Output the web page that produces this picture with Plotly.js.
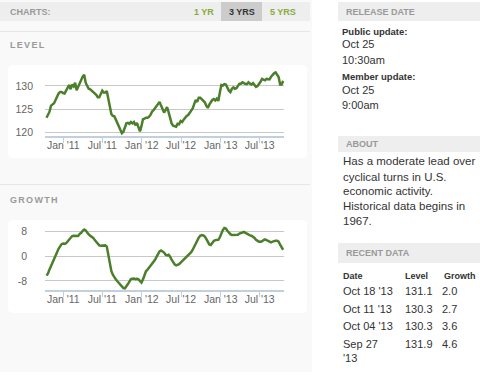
<!DOCTYPE html>
<html>
<head>
<meta charset="utf-8">
<script src="https://cdn.plot.ly/plotly-3.0.1.min.js"></script>
<style>
html,body{margin:0;padding:0;background:#fff;}
#chart{width:480px;height:372px;}
</style>
</head>
<body>
<div id="chart"></div>
<script>
// ---- data (weekly, first week ending 2010-10-15, last 2013-10-18) ----
var firstWeek = '2010-10-15';
var levelValues = [123.2,123.8,124.5,125.8,126.0,126.3,127.0,127.7,128.4,128.7,
128.7,128.5,128.4,129.0,129.6,130.2,129.3,130.3,129.9,130.7,
129.1,129.9,130.8,131.4,132.0,132.4,130.7,130.0,129.4,129.3,
129.0,128.7,128.5,128.1,127.6,127.6,128.3,129.0,128.6,128.6,
128.9,127.2,125.2,124.0,123.6,123.5,122.8,122.0,121.3,120.5,
119.9,120.2,121.0,122.0,122.1,121.9,122.3,122.0,122.3,121.6,
122.1,121.0,120.3,121.4,122.9,123.0,123.2,123.2,123.4,123.8,
124.5,124.8,125.3,125.8,126.3,126.6,125.8,124.8,124.3,124.9,
125.5,124.4,123.1,122.0,121.5,121.4,121.3,121.9,121.8,122.5,
122.3,122.8,123.3,123.6,123.8,124.3,124.6,125.2,126.1,127.0,
126.6,127.5,127.5,127.1,126.9,126.5,125.8,125.3,126.0,126.5,
127.0,127.2,126.9,127.3,126.8,128.6,130.2,130.1,130.4,130.3,
129.5,129.0,128.7,129.4,129.7,129.4,129.5,130.1,130.5,130.5,
130.8,130.6,130.4,130.4,130.8,130.5,130.3,130.6,130.2,129.8,
130.0,130.4,130.9,131.5,131.3,131.2,131.5,131.5,131.4,132.0,
132.4,132.7,132.9,132.3,131.9,130.3,130.3,131.1];
var growthValues = [-6.3,-5.6,-4.3,-3.3,-2.2,-1.1,0.0,1.2,2.3,3.3,
3.8,4.0,3.9,4.1,4.7,5.5,6.0,6.4,6.5,6.5,
6.3,6.4,7.1,7.4,8.1,8.5,8.2,7.4,6.9,6.5,
6.2,5.8,5.1,4.5,3.8,3.4,3.3,3.3,3.4,3.4,
3.0,0.0,-2.4,-4.8,-6.0,-6.9,-7.5,-8.1,-8.7,-9.4,
-10.0,-10.3,-10.4,-9.8,-9.0,-8.2,-7.4,-7.3,-7.2,-7.4,
-7.3,-7.5,-8.0,-8.5,-7.5,-5.8,-4.9,-4.4,-3.8,-3.2,
-2.6,-2.0,-1.2,-0.3,0.7,1.5,1.8,1.5,1.1,0.4,
0.2,0.4,-0.2,-1.2,-2.2,-2.7,-3.0,-2.9,-2.6,-2.1,
-1.6,-1.1,-0.7,-0.3,0.1,0.6,1.2,2.0,3.1,4.1,
5.1,5.9,6.5,6.7,6.6,6.3,5.5,4.7,3.7,3.5,
4.2,4.8,5.1,5.1,5.2,6.0,7.3,8.3,9.0,8.8,
8.1,7.5,7.0,6.7,6.7,6.9,6.9,6.8,7.2,7.3,
7.6,7.7,7.4,7.1,6.8,6.6,6.5,6.2,5.8,5.2,
4.8,4.6,4.6,4.7,5.1,5.3,5.1,4.9,4.6,4.4,
4.6,4.8,4.9,4.9,4.6,3.6,2.7,2.0];
var levelTicks = [120, 125, 130];
var growthTicks = [-8, 0, 8];
var growthTickText = ['-8', '0', '8'];
var rangeButtons = ['1 YR', '3 YRS', '5 YRS'];
var recentDates = ['Oct 18 \'13', 'Oct 11 \'13', 'Oct 04 \'13', 'Sep 27<br>\'13'];
var recentLevel = ['131.1', '130.3', '130.3', '131.9'];
var recentGrowth = ['2.0', '2.7', '3.6', '4.6'];
var aboutLines = ['Has a moderate lead over', 'cyclical turns in U.S.', 'economic activity.', 'Historical data begins in', '1967.'];

// ---- helpers for pixel placement ----
var W = 480, H = 372;
function px(x){ return x / W; }
function py(y){ return 1 - y / H; }
var FONT = 'Liberation Sans, Arial, sans-serif';
function rect(x0, y0, x1, y1, color){
  return {type:'rect', xref:'paper', yref:'paper', x0:px(x0), x1:px(x1), y0:py(y1), y1:py(y0),
    fillcolor:color, line:{width:0}, layer:'below'};
}
function rrect(x0, y0, x1, y1, r, color){
  var ax = px(x0), bx = px(x1), ay = py(y0), by = py(y1);
  var rx = r / W, ry = r / H;
  var p = 'M' + (ax+rx) + ',' + ay + ' L' + (bx-rx) + ',' + ay + ' Q' + bx + ',' + ay + ' ' + bx + ',' + (ay-ry) +
    ' L' + bx + ',' + (by+ry) + ' Q' + bx + ',' + by + ' ' + (bx-rx) + ',' + by +
    ' L' + (ax+rx) + ',' + by + ' Q' + ax + ',' + by + ' ' + ax + ',' + (by+ry) +
    ' L' + ax + ',' + (ay-ry) + ' Q' + ax + ',' + ay + ' ' + (ax+rx) + ',' + ay + ' Z';
  return {type:'path', xref:'paper', yref:'paper', path:p, fillcolor:color, line:{width:0}, layer:'below'};
}
function hline(x0, x1, y, color){
  return {type:'line', xref:'paper', yref:'paper', x0:px(x0), x1:px(x1), y0:py(y), y1:py(y),
    line:{color:color, width:1}, layer:'below'};
}
function txt(x, y, text, size, color, bold, anchor){
  return {xref:'paper', yref:'paper', x:px(x), y:py(y), text: bold ? '<b>' + text + '</b>' : text,
    showarrow:false, xanchor: anchor || 'left', yanchor:'middle', align:'left',
    font:{family:FONT, size:size, color:color}};
}

var shapes = [
  rect(0, 0, 312, 372, '#f9f9f9'),
  rect(0, 2, 310, 21, '#eeeeee'),
  rect(221, 2, 262, 21, '#cccccc'),
  hline(0, 310, 31.5, '#e6e6e6'),
  hline(0, 310, 184.5, '#e6e6e6'),
  rrect(8, 65, 307, 158, 5, '#ffffff'),
  rrect(8, 220, 307, 313, 5, '#ffffff'),
  rect(338, 2, 480, 21, '#eeeeee'),
  rect(338, 136, 480, 152, '#eeeeee'),
  rect(338, 243, 480, 263, '#eeeeee')
];

var ann = [
  txt(8, 12, 'CHARTS:', 9, '#999999', true),
  txt(204, 12, rangeButtons[0], 9, '#8aaa3a', true, 'center'),
  txt(241.5, 12, rangeButtons[1], 9, '#333333', true, 'center'),
  txt(283, 12, rangeButtons[2], 9, '#8aaa3a', true, 'center'),
  txt(8, 45, 'LEVEL', 9, '#999999', true),
  txt(8, 200, 'GROWTH', 9, '#999999', true),
  txt(344, 12, 'RELEASE DATE', 9, '#999999', true),
  txt(340, 31.5, 'Public update:', 9.5, '#333333', true),
  txt(340, 43.5, 'Oct 25', 11, '#333333'),
  txt(340, 60, '10:30am', 11, '#333333'),
  txt(340, 76, 'Member update:', 9.5, '#333333', true),
  txt(340, 89.5, 'Oct 25', 11, '#333333'),
  txt(340, 105, '9:00am', 11, '#333333'),
  txt(344, 144, 'ABOUT', 9, '#999999', true),
  txt(344, 253, 'RECENT DATA', 9, '#999999', true),
  txt(341, 276, 'Date', 9, '#333333', true),
  txt(403, 276, 'Level', 9, '#333333', true),
  txt(442, 276, 'Growth', 9, '#333333', true)
];
var aboutY = [161, 176.5, 191, 206, 221];
for (var i = 0; i < aboutLines.length; i++) ann.push(txt(341, aboutY[i], aboutLines[i], 11.5, '#333333'));
var rowY = [291, 308.5, 326, 343.5];
for (var j = 0; j < recentDates.length; j++){
  var a = txt(341, rowY[j], recentDates[j], 11, '#333333');
  if (j === 3){ a.yanchor = 'top'; a.y = py(rowY[j] - 7.5); }
  ann.push(a);
  ann.push(txt(403, rowY[j], recentLevel[j], 11, '#333333'));
  ann.push(txt(440, rowY[j], recentGrowth[j], 11, '#333333'));
}

var lineStyle = {color:'#4b7f2c', width:2.5};
var traces = [
  {type:'scatter', mode:'lines', x0:firstWeek, dx:604800000, y:levelValues, xaxis:'x', yaxis:'y',
   line:lineStyle, hoverinfo:'skip'},
  {type:'scatter', mode:'lines', x0:firstWeek, dx:604800000, y:growthValues, xaxis:'x2', yaxis:'y2',
   line:lineStyle, hoverinfo:'skip'}
];

function xAxisCfg(anchor){
  return {domain:[px(45), px(284)], anchor:anchor, type:'date',
    range:['2010-10-08', '2013-10-22'], tick0:'2011-01-01', dtick:'M6', tickformat:"%b '%y",
    showgrid:false, zeroline:false, showline:true, linecolor:'#c0d0e0', linewidth:2,
    ticks:'outside', ticklen:5, tickwidth:1, tickcolor:'#c0d0e0', ticklabelstandoff:-7,
    tickfont:{family:FONT, size:10.5, color:'#666666'}, fixedrange:true};
}
var layout = {
  width:W, height:H, margin:{l:0, r:0, t:0, b:0},
  paper_bgcolor:'#ffffff', plot_bgcolor:'rgba(0,0,0,0)', showlegend:false,
  shapes:shapes, annotations:ann,
  xaxis: xAxisCfg('y'),
  xaxis2: xAxisCfg('y2'),
  yaxis:{domain:[py(136), py(71)], anchor:'x', range:[119.3, 133.2], tickvals:levelTicks,
    showgrid:true, gridcolor:'#c8c8c8', gridwidth:1, zeroline:false, showline:false, ticks:'',
    ticklabelstandoff:11, tickfont:{family:FONT, size:10.5, color:'#666666'}, fixedrange:true},
  yaxis2:{domain:[py(290), py(222)], anchor:'x2', range:[-10.9, 10.9], tickvals:growthTicks, ticktext:growthTickText,
    showgrid:true, gridcolor:'#c8c8c8', gridwidth:1, zeroline:false, showline:false, ticks:'',
    ticklabelstandoff:17, tickfont:{family:FONT, size:10.5, color:'#666666'}, fixedrange:true}
};

Plotly.newPlot('chart', traces, layout, {staticPlot:true}).then(function(gd){
  var els = gd.querySelectorAll('.annotation-text');
  els.forEach(function(el){
    var t = el.textContent;
    if (t === 'LEVEL' || t === 'GROWTH') el.style.letterSpacing = '1.3px';
  });
});
</script>
</body>
</html>
